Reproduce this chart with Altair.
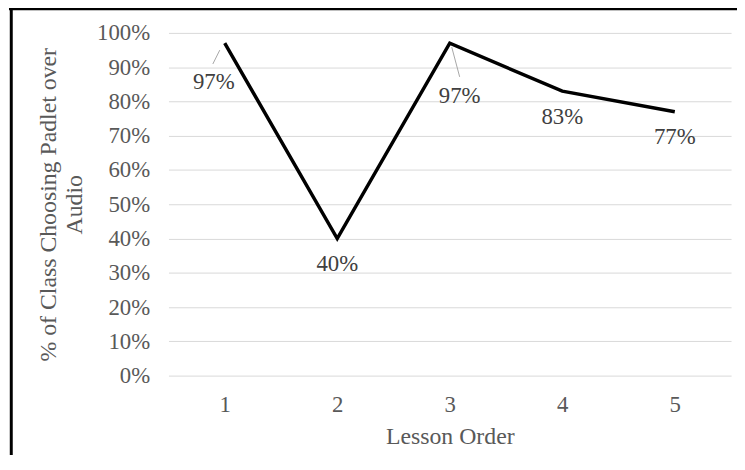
import altair as alt
import pandas as pd

lessons = [1, 2, 3, 4, 5]
shares = [0.97, 0.40, 0.97, 0.83, 0.77]
labels = ["97%", "40%", "97%", "83%", "77%"]
y_ticks = [0.0, 0.1, 0.2, 0.3, 0.4, 0.5, 0.6, 0.7, 0.8, 0.9, 1.0]

df = pd.DataFrame({"lesson": lessons, "share": shares, "label": labels})

FONT = "Liberation Serif"

x_enc = alt.X(
    "lesson:O",
    scale=alt.Scale(type="point", padding=0.5),
    axis=alt.Axis(
        title="Lesson Order",
        labelAngle=0,
        domain=False,
        ticks=False,
        tickSize=0,
        grid=False,
        labelPadding=18,
        titlePadding=9,
        labelFont=FONT,
        titleFont=FONT,
        labelFontSize=23,
        titleFontSize=24,
        labelColor="#595959",
        titleColor="#595959",
        titleFontWeight="normal",
    ),
)
y_enc = alt.Y(
    "share:Q",
    scale=alt.Scale(domain=[0, 1], nice=False),
    axis=alt.Axis(
        title=["% of Class Choosing Padlet over", "Audio"],
        format=".0%",
        values=y_ticks,
        labelOverlap=False,
        domain=False,
        ticks=False,
        tickSize=0,
        grid=True,
        gridColor="#d9d9d9",
        gridWidth=1,
        labelPadding=19,
        titlePadding=10,
        labelFont=FONT,
        titleFont=FONT,
        labelFontSize=23,
        titleFontSize=24,
        labelColor="#595959",
        titleColor="#595959",
        titleFontWeight="normal",
    ),
)

base = alt.Chart(df)

line = base.mark_line(color="black", strokeWidth=3.5).encode(x=x_enc, y=y_enc)

txt_default = (
    base.transform_filter("datum.lesson != 1 && datum.lesson != 3")
    .mark_text(font=FONT, fontSize=23, color="#404040", baseline="middle", dy=26)
    .encode(x=x_enc, y=y_enc, text="label:N")
)
txt_1 = (
    base.transform_filter("datum.lesson == 1")
    .mark_text(font=FONT, fontSize=23, color="#404040", baseline="middle", dx=-11, dy=39)
    .encode(x=x_enc, y=y_enc, text="label:N")
)
txt_3 = (
    base.transform_filter("datum.lesson == 3")
    .mark_text(font=FONT, fontSize=23, color="#404040", baseline="middle", dx=10, dy=53)
    .encode(x=x_enc, y=y_enc, text="label:N")
)

lead_1 = (
    base.transform_filter("datum.lesson == 1")
    .mark_rule(color="#a6a6a6", strokeWidth=1, xOffset=-5, yOffset=7, x2Offset=-12, y2Offset=21)
    .encode(x=x_enc, y=y_enc, x2="lesson:O", y2="share:Q")
)
lead_3 = (
    base.transform_filter("datum.lesson == 3")
    .mark_rule(color="#a6a6a6", strokeWidth=1, xOffset=2, yOffset=4, x2Offset=10, y2Offset=34)
    .encode(x=x_enc, y=y_enc, x2="lesson:O", y2="share:Q")
)

frame_df = pd.DataFrame({"a": [0]})
top_border = alt.Chart(frame_df).mark_rule(color="black", strokeWidth=3).encode(
    x=alt.value(-161), x2=alt.value(580), y=alt.value(-24.5)
)
left_border = alt.Chart(frame_df).mark_rule(color="black", strokeWidth=3).encode(
    x=alt.value(-158.7), y=alt.value(-26), y2=alt.value(450)
)

chart = (
    alt.layer(line, lead_1, lead_3, txt_default, txt_1, txt_3, top_border, left_border)
    .properties(
        width=568,
        height=346,
        autosize=alt.AutoSizeParams(type="none"),
        padding={"left": 162, "top": 23, "right": 6, "bottom": 78},
        background="white",
    )
    .configure_view(stroke=None)
)

chart.save("out.html", embed_options={"renderer": "svg", "actions": False})
